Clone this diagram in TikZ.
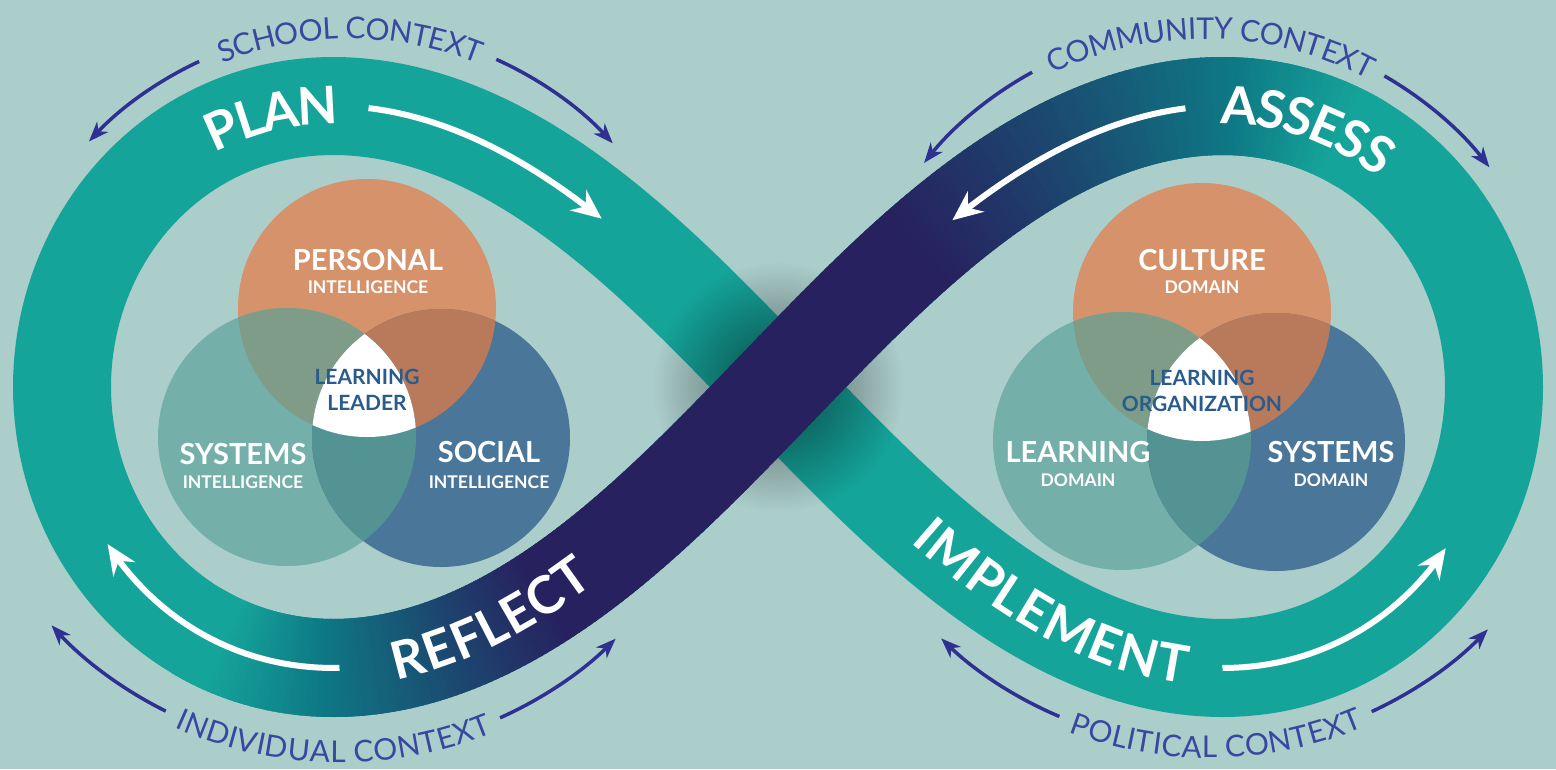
\documentclass[tikz,border=0pt]{standalone}
\usepackage{fontspec}
\setmainfont{Lato}
\usepackage{tikz}
\usetikzlibrary{calc,arrows.meta,decorations.text,fadings}
\definecolor{bg}{HTML}{ACCECB}
\definecolor{band}{HTML}{15A49A}
\definecolor{deep}{HTML}{0E7885}
\definecolor{navy}{HTML}{27225F}
\definecolor{ctx}{HTML}{2E3192}
\definecolor{ctxtext}{HTML}{3A47A0}
\definecolor{peach}{HTML}{D6926A}
\definecolor{sage}{HTML}{74B0A9}
\definecolor{slate}{HTML}{4A7799}
\definecolor{peachsage}{HTML}{7F9C89}
\definecolor{peachslate}{HTML}{B97A5B}
\definecolor{sageslate}{HTML}{539393}
\definecolor{coreblue}{HTML}{285B8E}
\newcommand\wordfont{\fontsize{52}{52}\selectfont\bfseries}
\newcommand\ctxfont{\fontsize{30}{30}\selectfont}
\tikzfading[name=crossfade, inner color=transparent!45, outer color=transparent!100]
\tikzset{
  ribbon/.style={draw=band, line width=98pt, line join=round},
  strip/.style={line width=98pt, line cap=butt},
  flow/.style={draw=white, line width=6pt, -{Stealth[length=30pt,width=26pt,inset=10pt]}},
  ctxarrow/.style={draw=ctx, line width=3.5pt, -{Stealth[length=20pt,width=15pt,inset=6pt]}},
  vennhead/.style={text=white, font=\fontsize{29}{29}\selectfont\bfseries},
  vennsub/.style={text=white, font=\fontsize{17.5}{18}\selectfont\bfseries},
  venncore/.style={text=coreblue, font=\fontsize{21}{26}\selectfont\bfseries, align=center},
  declare function={ribx(\t)=778+716*(sin(\t)-0.065*sin(3*\t))/1.065; riby(\t)=387-281*sin(2*\t);},
}

\begin{document}
\begin{tikzpicture}[x=1pt,y=-1pt]
  \useasboundingbox (0,0) rectangle (1556,769);
  \fill[bg] (0,0) rectangle (1556,769);
  \coordinate (cross) at (778,387);

  % ribbon
  \draw[ribbon] plot[domain=0:360, samples=361] ({ribx(\x)},{riby(\x)}) -- cycle;
  \fill[black, path fading=crossfade] (cross) circle (125);
  \foreach \t in {-60,-59.5,...,59.5}{
    \pgfmathsetmacro\px{ribx(\t)}
    \pgfmathsetmacro\tend{\t+0.8}
    \pgfmathsetmacro\v{min(max(0,min(1,(\px-220)/100))+max(0,min(1,(\px-320)/220)),max(0,min(1,(1340-\px)/110))+max(0,min(1,(1230-\px)/310)))}
    \pgfmathtruncatemacro\pa{min(100,100*\v)}
    \pgfmathtruncatemacro\pb{max(0,100*\v-100)}
    \draw[strip, draw=navy!\pb!deep!\pa!band] plot[domain=\t:\tend, samples=3] ({ribx(\x)},{riby(\x)});
  }

  % stage words
  \path[decorate, decoration={text along path, text align=center, raise=-18pt, text={|\wordfont\color{white}|PLAN}}]
    plot[domain=-250:-214, samples=40] ({ribx(-\x)},{riby(-\x)});
  \path[decorate, decoration={text along path, text align=center, raise=-18pt, text={|\wordfont\color{white}|ASSESS}}]
    plot[domain=37:72, samples=40] ({ribx(\x)},{riby(\x)});
  \path[decorate, decoration={text along path, text align=center, raise=-18pt, text={|\wordfont\color{white}|REFLECT}}]
    plot[domain=309:349, samples=40] ({ribx(\x)},{riby(\x)});
  \path[decorate, decoration={text along path, text align=center, raise=-18pt, text={|\wordfont\color{white}|IMPLEMENT}}]
    plot[domain=-174:-126, samples=50] ({ribx(-\x)},{riby(-\x)});

  % stage arrows
  \draw[flow] plot[domain=-221.5:-198.4, samples=30] ({ribx(-\x)},{riby(-\x)});
  \draw[flow] plot[domain=-41.3:-18.2, samples=30] ({ribx(-\x)},{riby(-\x)});
  \draw[flow] plot[domain=-315.6:-287, samples=30] ({ribx(-\x)},{riby(-\x)});
  \draw[flow] plot[domain=-135:-107.5, samples=30] ({ribx(-\x)},{riby(-\x)});

  % contexts
  \coordinate (school) at (350,385);
  \coordinate (community) at (1205,388);
  \coordinate (individual) at (340,360);
  \coordinate (political) at (1210,360);

  \draw[ctxarrow] ($(school)+(-115:357)$) arc[start angle=-115, end angle=-137, radius=357];
  \draw[ctxarrow] ($(school)+(-65.8:357)$) arc[start angle=-65.8, end angle=-42.6, radius=357];
  \path[decorate, decoration={text along path, text align=center, raise=-11pt, text={|\ctxfont\color{ctxtext}|SCHOOL CONTEXT}}]
    ($(school)+(-125:357)$) arc[start angle=-125, end angle=-55, radius=357];

  \draw[ctxarrow] ($(community)+(-118.7:360)$) arc[start angle=-118.7, end angle=-141.3, radius=360];
  \draw[ctxarrow] ($(community)+(-60.1:360)$) arc[start angle=-60.1, end angle=-37.8, radius=360];
  \path[decorate, decoration={text along path, text align=center, raise=-11pt, text={|\ctxfont\color{ctxtext}|COMMUNITY CONTEXT}}]
    ($(community)+(-126:360)$) arc[start angle=-126, end angle=-52, radius=360];

  \draw[ctxarrow] ($(individual)+(-243.6:392)$) arc[start angle=-243.6, end angle=-222.6, radius=392];
  \draw[ctxarrow] ($(individual)+(-294.1:392)$) arc[start angle=-294.1, end angle=-314.7, radius=392];
  \path[decorate, decoration={text along path, text align=center, raise=-11pt, text={|\ctxfont\color{ctxtext}|INDIVIDUAL CONTEXT}}]
    ($(individual)+(-234:392)$) arc[start angle=-234, end angle=-304, radius=392];

  \draw[ctxarrow] ($(political)+(-247.1:387)$) arc[start angle=-247.1, end angle=-226, radius=387];
  \draw[ctxarrow] ($(political)+(-294.7:387)$) arc[start angle=-294.7, end angle=-315.9, radius=387];
  \path[decorate, decoration={text along path, text align=center, raise=-11pt, text={|\ctxfont\color{ctxtext}|POLITICAL CONTEXT}}]
    ($(political)+(-236:387)$) arc[start angle=-236, end angle=-306, radius=387];

  % venn diagrams
  \foreach \vn/\vx/\vy in {lead/367/308, org/1202/312}{
    \begin{scope}[shift={(\vx,\vy)}]
      \coordinate (\vn-top) at (0,0);
      \coordinate (\vn-left) at (-80,129);
      \coordinate (\vn-right) at (74,130);
      \fill[peach] (\vn-top) circle (129);
      \fill[sage] (\vn-left) circle (129);
      \fill[slate] (\vn-right) circle (129);
      \begin{scope}
        \clip (\vn-top) circle (129);
        \fill[peachsage] (\vn-left) circle (129);
        \fill[peachslate] (\vn-right) circle (129);
      \end{scope}
      \begin{scope}
        \clip (\vn-left) circle (129);
        \fill[sageslate] (\vn-right) circle (129);
      \end{scope}
      \begin{scope}
        \clip (\vn-top) circle (129);
        \clip (\vn-left) circle (129);
        \fill[white] (\vn-right) circle (129);
      \end{scope}
    \end{scope}
  }

  \node[vennhead] (personal) at (368,260) {PERSONAL};
  \node[vennsub] (personal-sub) at (368,287) {INTELLIGENCE};
  \node[vennhead] (systems) at (243,454) {SYSTEMS};
  \node[vennsub] (systems-sub) at (243,482) {INTELLIGENCE};
  \node[vennhead] (social) at (489,452) {SOCIAL};
  \node[vennsub] (social-sub) at (489,482) {INTELLIGENCE};
  \node[venncore] (leader) at (367,390) {LEARNING\\LEADER};

  \node[vennhead] (culture) at (1202,260) {CULTURE};
  \node[vennsub] (culture-sub) at (1202,287) {DOMAIN};
  \node[vennhead] (learning) at (1078,452) {LEARNING};
  \node[vennsub] (learning-sub) at (1078,480) {DOMAIN};
  \node[vennhead] (sysdom) at (1331,452) {SYSTEMS};
  \node[vennsub] (sysdom-sub) at (1331,480) {DOMAIN};
  \node[venncore] (organization) at (1202,391) {LEARNING\\ORGANIZATION};
\end{tikzpicture}
\end{document}
